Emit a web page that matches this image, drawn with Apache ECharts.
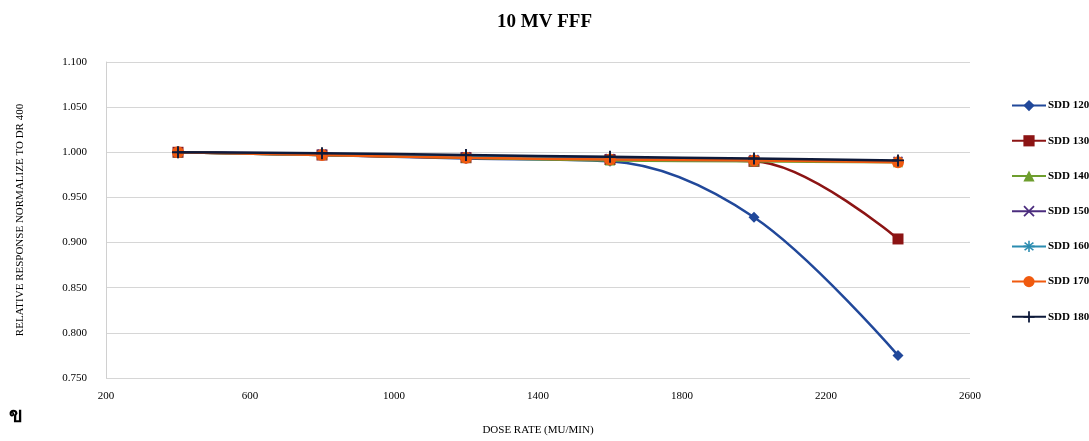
<!DOCTYPE html>
<html><head><meta charset="utf-8">
<script src="https://cdn.jsdelivr.net/npm/echarts@6/dist/echarts.min.js"></script>
<style>html,body{margin:0;padding:0;background:#fff}#c{width:1089px;height:441px}</style>
</head><body><div id="c"></div>
<script>
const doseRates = [400, 800, 1200, 1600, 2000, 2400];
const seriesNames = ['SDD 120','SDD 130','SDD 140','SDD 150','SDD 160','SDD 170','SDD 180'];
const sdd120 = [1.000, 0.997, 0.993, 0.990, 0.928, 0.775];
const sdd130 = [1.000, 0.997, 0.994, 0.992, 0.990, 0.904];
const sdd140 = [1.000, 0.997, 0.994, 0.991, 0.990, 0.989];
const sdd150 = [1.000, 0.998, 0.995, 0.993, 0.992, 0.990];
const sdd160 = [1.000, 0.997, 0.995, 0.992, 0.991, 0.990];
const sdd170 = [1.000, 0.997, 0.994, 0.992, 0.991, 0.989];
const sdd180 = [1.000, 0.999, 0.997, 0.995, 0.993, 0.991];
const allValues = [sdd120, sdd130, sdd140, sdd150, sdd160, sdd170, sdd180];

const colors = ['#21489A','#8C1414','#6E9E2E','#4B2C7E','#2B8CB0','#F05A0F','#0E1A3A'];
const plusPath = 'path://M4.2,0H5.8V4.2H10V5.8H5.8V10H4.2V5.8H0V4.2H4.2Z';
const xPath = 'path://M1.1,0L5,3.9L8.9,0L10,1.1L6.1,5L10,8.9L8.9,10L5,6.1L1.1,10L0,8.9L3.9,5L0,1.1Z';
const starPath = 'path://M4.3,0H5.7V3.3L8.5,1.1L9.4,2.2L6.4,4.3H10V5.7H6.4L9.4,7.8L8.5,8.9L5.7,6.7V10H4.3V6.7L1.5,8.9L0.6,7.8L3.6,5.7H0V4.3H3.6L0.6,2.2L1.5,1.1L4.3,3.3Z';
const symbols = ['diamond','rect','triangle',xPath,starPath,'circle',plusPath];
const sizes = [11,11,10,10,10,12,12];

const serif = '"Liberation Serif","DejaVu Serif",serif';
const chart = echarts.init(document.getElementById('c'));
chart.setOption({
  animation:false,
  title:{text:'10 MV FFF',left:'center',top:8,textStyle:{fontFamily:serif,fontSize:19,fontWeight:'bold',color:'#000'}},
  grid:{left:106,right:119,top:62,bottom:59},
  legend:{orient:'vertical',left:1006,top:95,itemWidth:34,itemHeight:14,itemGap:24,
    textStyle:{fontFamily:serif,fontSize:11,fontWeight:'bold',color:'#000',padding:[0,0,0,-3]},
    data:seriesNames},
  xAxis:{type:'value',min:200,max:2600,interval:400,
    axisLine:{show:false},axisTick:{show:false},splitLine:{show:false},
    axisLabel:{fontFamily:serif,fontSize:11,color:'#000',margin:13,formatter:v=>String(v)},
    name:'DOSE RATE (MU/MIN)',nameLocation:'middle',nameGap:47,
    nameTextStyle:{fontFamily:serif,fontSize:11,color:'#000'}},
  yAxis:{type:'value',min:0.75,max:1.1,interval:0.05,
    axisLine:{show:true,lineStyle:{color:'#d0d0d0'}},axisTick:{show:false},
    splitLine:{show:true,lineStyle:{color:'#d6d6d6',width:1}},
    axisLabel:{fontFamily:serif,fontSize:11,color:'#000',margin:19,formatter:v=>v.toFixed(3)},
    name:'RELATIVE RESPONSE NORMALIZE TO DR 400',nameLocation:'middle',nameGap:80,
    nameTextStyle:{fontFamily:serif,fontSize:11,color:'#000'}},
  graphic:[{type:'text',left:9,top:406,style:{text:'ข',fontSize:20,fontWeight:'bold',fill:'#000',fontFamily:'"Noto Sans","DejaVu Sans",sans-serif'}}],
  series: seriesNames.map((n,i)=>({
    name:n,type:'line',smooth:0.35,
    data: doseRates.map((x,j)=>[x, allValues[i][j]]),
    symbol:symbols[i],symbolSize:sizes[i],showSymbol:true,
    lineStyle:{color:colors[i],width:2.5},
    itemStyle:{color:colors[i]},
    z: 2+i
  }))
});
</script></body></html>
